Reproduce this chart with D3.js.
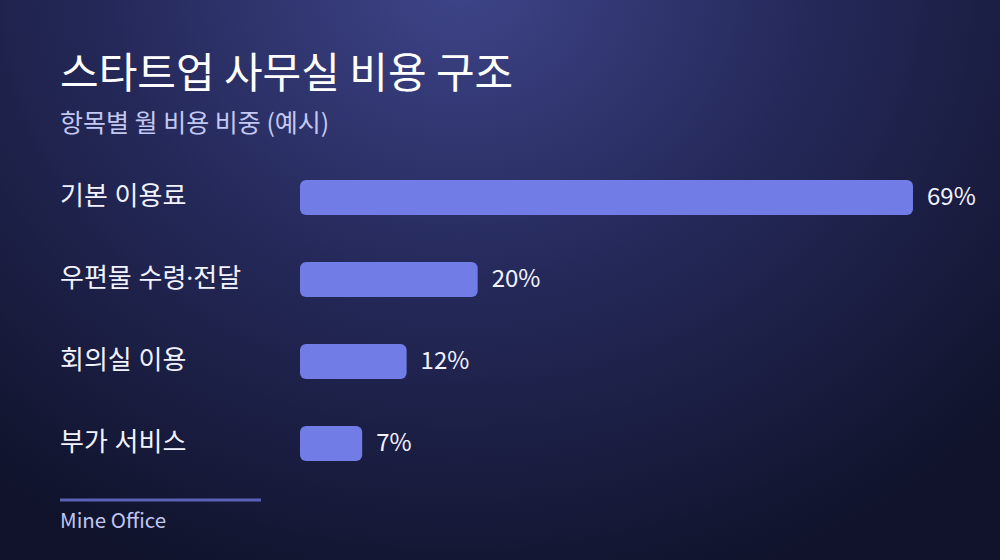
<!DOCTYPE html>
<html>
<head>
<meta charset="utf-8">
<script src="https://cdn.jsdelivr.net/npm/d3@7"></script>
<style>
  html, body { margin: 0; padding: 0; background: #12152f; }
  svg { display: block; }
  text { font-family: "Noto Sans CJK KR", "Noto Sans", sans-serif; }
  text.cat { font-family: "Noto Sans", "Noto Sans CJK KR", sans-serif; }
</style>
</head>
<body>
<svg id="chart" width="1000" height="560"></svg>
<script>
const categories = ["기본 이용료", "우편물 수령·전달", "회의실 이용", "부가 서비스"];
const shares = [69, 20, 12, 7];
const valueLabels = ["69%", "20%", "12%", "7%"];
const title = "스타트업 사무실 비용 구조";
const subtitle = "항목별 월 비용 비중 (예시)";
const source = "Mine Office";

const data = categories.map((c, i) => ({ cat: c, v: shares[i], label: valueLabels[i] }));

const svg = d3.select("#chart");
const defs = svg.append("defs");
const grad = defs.append("radialGradient")
  .attr("id", "bg")
  .attr("gradientUnits", "userSpaceOnUse")
  .attr("cx", 460).attr("cy", -20).attr("r", 640)
  .attr("gradientTransform", "translate(460,-20) scale(1.15,1) translate(-460,20)");
grad.append("stop").attr("offset", "0%").attr("stop-color", "#3e4589");
grad.append("stop").attr("offset", "45%").attr("stop-color", "#262a5c");
grad.append("stop").attr("offset", "100%").attr("stop-color", "#10132b");

svg.append("rect").attr("width", 1000).attr("height", 560).attr("fill", "url(#bg)");

svg.append("text")
  .attr("x", 60).attr("y", 88)
  .attr("fill", "#ffffff")
  .attr("font-size", 42)
  .attr("font-weight", 400)
  .text(title);

svg.append("text")
  .attr("x", 60).attr("y", 132)
  .attr("fill", "#c3c9f3")
  .attr("font-size", 25)
  .text(subtitle);

const x = d3.scaleLinear()
  .domain([0, d3.max(shares)])
  .range([300, 913]);

const y = d3.scaleBand()
  .domain(categories)
  .range([133, 508])
  .padding(0.573);

const g = svg.append("g");

g.selectAll("rect.bar")
  .data(data)
  .join("rect")
  .attr("class", "bar")
  .attr("x", x(0))
  .attr("y", d => y(d.cat))
  .attr("width", d => x(d.v) - x(0))
  .attr("height", y.bandwidth())
  .attr("rx", 6).attr("ry", 6)
  .attr("fill", "#717ce6");

g.selectAll("text.cat")
  .data(data)
  .join("text")
  .attr("class", "cat")
  .attr("x", 60)
  .attr("y", d => y(d.cat) + y.bandwidth() / 2)
  .attr("dy", "0.3em")
  .attr("fill", "#f2f3ff")
  .attr("font-size", 26)
  .text(d => d.cat);

g.selectAll("text.val")
  .data(data)
  .join("text")
  .attr("class", "val")
  .attr("x", d => x(d.v) + 14)
  .attr("y", d => y(d.cat) + y.bandwidth() / 2)
  .attr("dy", "0.32em")
  .attr("fill", "#f2f3ff")
  .attr("font-size", 24)
  .text(d => d.label);

svg.append("line")
  .attr("x1", 60).attr("x2", 261)
  .attr("y1", 500).attr("y2", 500)
  .attr("stroke", "#5b61b6")
  .attr("stroke-width", 3);

svg.append("text")
  .attr("x", 60).attr("y", 528)
  .attr("fill", "#c0c6f0")
  .attr("font-size", 20.5)
  .text(source);
</script>
</body>
</html>
